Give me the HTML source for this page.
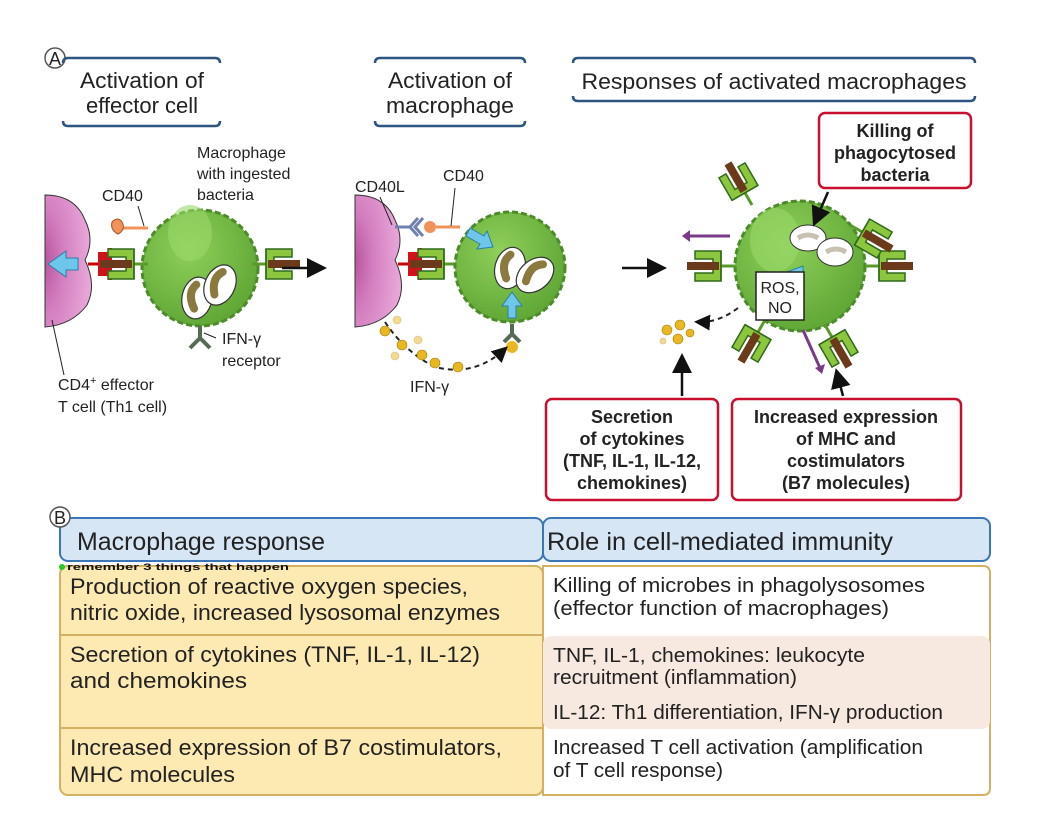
<!DOCTYPE html>
<html><head><meta charset="utf-8"><style>
html,body{margin:0;padding:0;background:#fff;}
svg{display:block;font-family:"Liberation Sans",sans-serif;}
</style></head><body>
<svg width="1044" height="829" viewBox="0 0 1044 829" xmlns="http://www.w3.org/2000/svg">
<defs>
<radialGradient id="gc" cx="0.4" cy="0.35" r="0.7">
<stop offset="0" stop-color="#8fcf5a"/><stop offset="1" stop-color="#5ea534"/></radialGradient>
<radialGradient id="pk" cx="0" cy="0.5" r="1">
<stop offset="0" stop-color="#b8569f"/><stop offset="0.4" stop-color="#d47fc0"/><stop offset="1" stop-color="#e9a9da"/></radialGradient>
<g id="mhc">
<line x1="0" y1="0" x2="-14" y2="0" stroke="#5a9a2a" stroke-width="3"/>
<path d="M-14,-15 h-26 v8 h18 v14 h-18 v8 h26 z" fill="#8cc63f" stroke="#2f6a1a" stroke-width="1.5"/>
<path d="M-14,-15 v30" stroke="#2f6a1a" stroke-width="1.5"/>
<rect x="-48" y="-4" width="32" height="8" fill="#6b3a1a"/>
</g>
<g id="bact">
<ellipse cx="0" cy="0" rx="15" ry="21" fill="#fff" stroke="#333" stroke-width="1.2"/>
<path d="M-3,-13 q-8,10 2,24" stroke="#8b7a3f" stroke-width="8" fill="none" stroke-linecap="round"/>
</g>
<marker id="ah" markerWidth="8" markerHeight="8" refX="6" refY="4" orient="auto"><path d="M0,0 L8,4 L0,8 z" fill="#111"/></marker>
</defs>

<!-- Headers -->
<circle cx="55" cy="58" r="10" fill="#fff" stroke="#555" stroke-width="1.5"/>
<text x="55" y="65" font-size="18" text-anchor="middle" fill="#222">A</text>
<g fill="none" stroke="#2c5580" stroke-width="2.5">
<path d="M63,63 q0,-5 5,-5 h147 q5,0 5,5"/>
<path d="M63,121 q0,5 5,5 h147 q5,0 5,-5"/>
<path d="M375,63 q0,-5 5,-5 h140 q5,0 5,5"/>
<path d="M375,121 q0,5 5,5 h140 q5,0 5,-5"/>
<path d="M573,63 q0,-5 5,-5 h392 q5,0 5,5"/>
<path d="M573,96 q0,5 5,5 h392 q5,0 5,-5"/>
</g>
<g font-size="22" fill="#222" text-anchor="middle">
<text x="142" y="88" textLength="124" lengthAdjust="spacingAndGlyphs">Activation of</text>
<text x="142" y="113" textLength="112" lengthAdjust="spacingAndGlyphs">effector cell</text>
<text x="450" y="88" textLength="124" lengthAdjust="spacingAndGlyphs">Activation of</text>
<text x="450" y="113" textLength="128" lengthAdjust="spacingAndGlyphs">macrophage</text>
<text x="774" y="89" textLength="385" lengthAdjust="spacingAndGlyphs">Responses of activated macrophages</text>
</g>

<!-- Panel 1 -->
<path d="M45,195 q30,0 40,25 q10,20 0,40 q12,25 2,45 q-15,20 -42,22 z" fill="url(#pk)" stroke="#333" stroke-width="1"/>
<path d="M78,258 h-12 v-7 l-18,13 l18,13 v-7 h12 z" fill="#6ec6ea" stroke="#2a7fa8" stroke-width="1"/>
<line x1="88" y1="264" x2="100" y2="264" stroke="#c00" stroke-width="3"/>
<path d="M98,252 h10 v-4 h4 v32 h-4 v-4 h-10 z" fill="#d0121b"/>
<line x1="118" y1="228" x2="148" y2="228" stroke="#f0925a" stroke-width="3"/>
<path d="M112,222 q6,-6 10,0 q4,8 -4,12 q-8,-4 -6,-12 z" fill="#f0925a" stroke="#a05020"/>
<circle cx="200" cy="268" r="58" fill="url(#gc)" stroke="#4c8a2a" stroke-width="3" stroke-dasharray="6 3"/>
<ellipse cx="190" cy="233" rx="22" ry="28" fill="#9ad86a" opacity="0.6"/>
<use href="#mhc" transform="translate(148,264)"/>
<use href="#mhc" transform="translate(252,264) scale(-1,1)"/>
<use href="#bact" transform="translate(197,298) rotate(10)"/>
<use href="#bact" transform="translate(220,285) rotate(25)"/>
<path d="M200,326 v12 l-10,10 M200,338 l10,10" stroke="#556b55" stroke-width="4" fill="none"/>
<line x1="282" y1="268" x2="322" y2="268" stroke="#111" stroke-width="2.5" marker-end="url(#ah)"/>

<!-- Panel 2 -->
<path d="M355,195 q30,0 40,25 q10,20 0,40 q12,25 2,45 q-15,20 -42,22 z" fill="url(#pk)" stroke="#333" stroke-width="1"/>
<line x1="398" y1="264" x2="410" y2="264" stroke="#c00" stroke-width="3"/>
<path d="M408,252 h10 v-4 h4 v32 h-4 v-4 h-10 z" fill="#d0121b"/>
<use href="#mhc" transform="translate(458,264)"/>
<line x1="395" y1="227" x2="412" y2="227" stroke="#7080b0" stroke-width="3"/>
<path d="M418,218 l-8,9 l8,9 M423,218 l-8,9 l8,9" stroke="#7080b0" stroke-width="3" fill="none"/>
<circle cx="430" cy="227" r="6" fill="#f0925a"/>
<line x1="436" y1="227" x2="460" y2="227" stroke="#f0925a" stroke-width="3"/>
<circle cx="510" cy="267" r="55" fill="url(#gc)" stroke="#4c8a2a" stroke-width="3" stroke-dasharray="6 3"/>
<use href="#bact" transform="translate(510,268) rotate(15)"/>
<use href="#bact" transform="translate(535,275) rotate(50)"/>
<path d="M470,228 l14,8 l3,-5 l6,16 l-16,2 l3,-5 l-14,-8 z" fill="#6ec6ea" stroke="#2a7fa8"/>
<path d="M508,318 v-12 h-6 l10,-14 l10,14 h-6 v12 z" fill="#6ec6ea" stroke="#2a7fa8"/>
<path d="M512,324 v10 l-8,8 M512,334 l8,8" stroke="#556b55" stroke-width="4" fill="none"/>
<circle cx="512" cy="347" r="6" fill="#e8b820"/>
<path d="M385,322 q20,30 50,45 q40,10 70,-18" stroke="#222" stroke-width="2" stroke-dasharray="5 4" fill="none" marker-end="url(#ah)"/>
<g fill="#e8b820" stroke="#a07a10" stroke-width="0.6">
<circle cx="385" cy="331" r="5"/><circle cx="397" cy="320" r="4" opacity="0.5"/>
<circle cx="402" cy="345" r="5"/><circle cx="422" cy="355" r="5"/><circle cx="435" cy="363" r="5"/>
<circle cx="458" cy="367" r="5"/><circle cx="418" cy="340" r="4" opacity="0.5"/><circle cx="395" cy="356" r="4" opacity="0.5"/>
</g>

<!-- Panel 3 -->
<line x1="622" y1="268" x2="662" y2="268" stroke="#111" stroke-width="2.5" marker-end="url(#ah)"/>
<circle cx="800" cy="266" r="65" fill="url(#gc)" stroke="#4c8a2a" stroke-width="3" stroke-dasharray="6 3"/>
<ellipse cx="775" cy="240" rx="25" ry="32" fill="#9ad86a" opacity="0.6"/>
<use href="#mhc" transform="translate(735,266)"/>
<use href="#mhc" transform="translate(865,266) scale(-1,1)"/>
<use href="#mhc" transform="translate(752,205) rotate(60)"/>
<use href="#mhc" transform="translate(850,225) rotate(-150)"/>
<use href="#mhc" transform="translate(765,320) rotate(-60)"/>
<use href="#mhc" transform="translate(825,325) rotate(-120)"/>
<line x1="730" y1="236" x2="690" y2="236" stroke="#7a3a8a" stroke-width="3"/>
<path d="M682,236 l8,-6 v12 z" fill="#7a3a8a"/>
<line x1="803" y1="330" x2="820" y2="368" stroke="#7a3a8a" stroke-width="3"/>
<path d="M822,374 l-7,-6 l10,-4 z" fill="#7a3a8a"/>
<ellipse cx="808" cy="238" rx="18" ry="13" fill="#fff" stroke="#333"/>
<ellipse cx="835" cy="252" rx="18" ry="14" fill="#fff" stroke="#333"/>
<path d="M798,238 q10,-6 20,0" stroke="#c8c0b0" stroke-width="5" fill="none"/>
<path d="M826,252 q10,-6 20,0" stroke="#c8c0b0" stroke-width="5" fill="none"/>
<path d="M786,285 l6,-10 l-5,-3 l16,-6 l0,16 l-5,-3 l-6,10 z" fill="#6ec6ea" stroke="#2a7fa8"/>
<rect x="756" y="272" width="48" height="48" fill="#fff" stroke="#222" stroke-width="1.5"/>
<text x="780" y="293" font-size="16" text-anchor="middle" fill="#222">ROS,</text>
<text x="780" y="313" font-size="16" text-anchor="middle" fill="#222">NO</text>
<path d="M738,308 q-20,15 -40,14" stroke="#222" stroke-width="2" stroke-dasharray="5 4" fill="none" marker-end="url(#ah)"/>
<g fill="#e8b820" stroke="#a07a10" stroke-width="0.6">
<circle cx="667" cy="330" r="5"/><circle cx="680" cy="325" r="5"/><circle cx="678" cy="339" r="5"/><circle cx="690" cy="333" r="4"/><circle cx="663" cy="341" r="3" opacity="0.5"/>
</g>
<line x1="682" y1="396" x2="682" y2="358" stroke="#111" stroke-width="2.5" marker-end="url(#ah)"/>
<line x1="843" y1="396" x2="837" y2="373" stroke="#111" stroke-width="2.5" marker-end="url(#ah)"/>
<line x1="828" y1="192" x2="815" y2="222" stroke="#111" stroke-width="2.5" marker-end="url(#ah)"/>

<g fill="#fff" stroke="#c8102e" stroke-width="2.5">
<rect x="819" y="113" width="152" height="75" rx="6"/>
<rect x="546" y="399" width="172" height="101" rx="6"/>
<rect x="732" y="399" width="229" height="101" rx="6"/>
</g>
<g font-size="18" font-weight="bold" fill="#222" text-anchor="middle">
<text x="895" y="137">Killing of</text>
<text x="895" y="159">phagocytosed</text>
<text x="895" y="181">bacteria</text>
<text x="632" y="423">Secretion</text>
<text x="632" y="445">of cytokines</text>
<text x="632" y="467">(TNF, IL-1, IL-12,</text>
<text x="632" y="489">chemokines)</text>
<text x="846" y="423">Increased expression</text>
<text x="846" y="445">of MHC and</text>
<text x="846" y="467">costimulators</text>
<text x="846" y="489">(B7 molecules)</text>
</g>
<g font-size="16" fill="#222">
<text x="197" y="158">Macrophage</text>
<text x="197" y="179">with ingested</text>
<text x="197" y="200">bacteria</text>
<text x="102" y="201">CD40</text>
<text x="355" y="192">CD40L</text>
<text x="443" y="181">CD40</text>
<text x="222" y="344">IFN-γ</text>
<text x="222" y="366">receptor</text>
<text x="410" y="392">IFN-γ</text>
<text x="58" y="390">CD4<tspan font-size="11" dy="-6">+</tspan><tspan dy="6"> effector</tspan></text>
<text x="58" y="412">T cell (Th1 cell)</text>
</g>
<g stroke="#222" stroke-width="1" fill="none">
<path d="M138,206 l6,20"/><path d="M380,197 l12,28"/><path d="M455,188 l-4,38"/>
<path d="M216,338 l-12,-5"/><path d="M52,320 l12,55"/>
</g>

<!-- Table B -->
<rect x="60" y="566" width="483" height="229" rx="8" fill="#fdeab3" stroke="#d4b060" stroke-width="2"/>
<path d="M543,566 h440 q7,0 7,7 v215 q0,7 -7,7 h-440 z" fill="#fff" stroke="#d4b060" stroke-width="2"/>
<rect x="543" y="636" width="447" height="93" rx="8" fill="#f7e9e0"/>
<line x1="60" y1="635" x2="543" y2="635" stroke="#d4b060" stroke-width="2"/>
<line x1="60" y1="728" x2="543" y2="728" stroke="#d4b060" stroke-width="2"/>
<rect x="60" y="518" width="483" height="43" rx="8" fill="#d7e6f5" stroke="#3a76b8" stroke-width="2"/>
<rect x="543" y="518" width="447" height="43" rx="8" fill="#d7e6f5" stroke="#3a76b8" stroke-width="2"/>
<circle cx="60" cy="517" r="10" fill="#fff" stroke="#555" stroke-width="1.5"/>
<text x="60" y="524" font-size="18" text-anchor="middle" fill="#222">B</text>
<text x="77" y="550" font-size="25" fill="#222" textLength="248" lengthAdjust="spacingAndGlyphs">Macrophage response</text>
<text x="547" y="550" font-size="25" fill="#222" textLength="346" lengthAdjust="spacingAndGlyphs">Role in cell-mediated immunity</text>
<circle cx="62" cy="567" r="3" fill="#22cc22"/>
<text x="67" y="570" font-size="9" font-weight="bold" fill="#111" textLength="222" lengthAdjust="spacingAndGlyphs">remember 3 things that happen</text>
<g font-size="22" fill="#222" lengthAdjust="spacingAndGlyphs">
<text x="70" y="594" textLength="398" lengthAdjust="spacingAndGlyphs">Production of reactive oxygen species,</text>
<text x="70" y="620" textLength="430" lengthAdjust="spacingAndGlyphs">nitric oxide, increased lysosomal enzymes</text>
<text x="70" y="662" textLength="410" lengthAdjust="spacingAndGlyphs">Secretion of cytokines (TNF, IL-1, IL-12)</text>
<text x="70" y="688" textLength="177" lengthAdjust="spacingAndGlyphs">and chemokines</text>
<text x="70" y="755" textLength="432" lengthAdjust="spacingAndGlyphs">Increased expression of B7 costimulators,</text>
<text x="70" y="782" textLength="165" lengthAdjust="spacingAndGlyphs">MHC molecules</text>
</g>
<g font-size="20" fill="#222">
<text x="553" y="592" textLength="372" lengthAdjust="spacingAndGlyphs">Killing of microbes in phagolysosomes</text>
<text x="553" y="615" textLength="336" lengthAdjust="spacingAndGlyphs">(effector function of macrophages)</text>
<text x="553" y="662" textLength="312" lengthAdjust="spacingAndGlyphs">TNF, IL-1, chemokines: leukocyte</text>
<text x="553" y="684" textLength="244" lengthAdjust="spacingAndGlyphs">recruitment (inflammation)</text>
<text x="553" y="719" textLength="390" lengthAdjust="spacingAndGlyphs">IL-12: Th1 differentiation, IFN-γ production</text>
<text x="553" y="754" textLength="370" lengthAdjust="spacingAndGlyphs">Increased T cell activation (amplification</text>
<text x="553" y="777" textLength="170" lengthAdjust="spacingAndGlyphs">of T cell response)</text>
</g>
</svg>
</body></html>
